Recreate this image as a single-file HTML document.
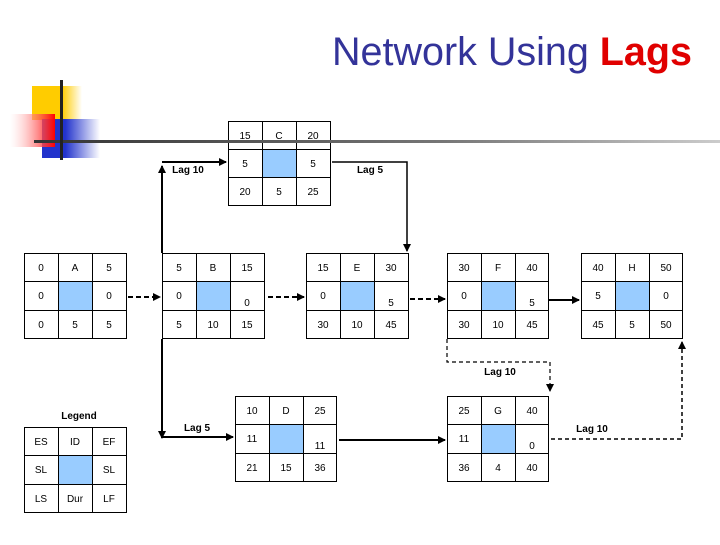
<!DOCTYPE html>
<html><head><style>
body{margin:0;background:#fff;}
svg text{font-family:"Liberation Sans",sans-serif;}
</style></head><body>
<svg width="720" height="540" viewBox="0 0 720 540" xmlns="http://www.w3.org/2000/svg">
<defs>
<linearGradient id="hl" x1="0" x2="1"><stop offset="0" stop-color="#333"/><stop offset="0.6" stop-color="#777"/><stop offset="1" stop-color="#ccc"/></linearGradient>
<linearGradient id="rd" x1="1" x2="0"><stop offset="0" stop-color="#f00"/><stop offset="1" stop-color="#fff" stop-opacity="0.3"/></linearGradient>
<linearGradient id="bl" x1="0" x2="1"><stop offset="0.4" stop-color="#2233cc"/><stop offset="1" stop-color="#fff"/></linearGradient>
<linearGradient id="yl" x1="0" x2="1"><stop offset="0.6" stop-color="#ffcc00"/><stop offset="1" stop-color="#fff"/></linearGradient>
<marker id="ah" markerWidth="8" markerHeight="8" refX="7" refY="4" orient="auto" markerUnits="userSpaceOnUse"><path d="M0,0 L8,4 L0,8 z" fill="#000"/></marker>
</defs>
<rect x="32" y="86" width="50" height="34" fill="url(#yl)"/>
<rect x="42" y="119" width="58" height="39" fill="url(#bl)"/>
<rect x="10" y="114" width="45" height="33" fill="url(#rd)"/>
<text x="692" y="65" text-anchor="end" font-size="39.5" fill="#333399">Network Using <tspan fill="#e00000" font-weight="bold">Lags</tspan></text>

<g font-size="10" text-anchor="middle">
<!-- C -->
<rect x="228.5" y="121.5" width="102" height="84" fill="#fff" stroke="#000"/>
<rect x="262" y="149" width="34" height="28" fill="#99ccff"/>
<path d="M262.5 121v84M296.5 121v84M228 149.5h102M228 177.5h102" stroke="#000"/>
<text x="245" y="139">15</text><text x="279" y="139">C</text><text x="313" y="139">20</text>
<text x="245" y="167">5</text><text x="313" y="167">5</text>
<text x="245" y="195">20</text><text x="279" y="195">5</text><text x="313" y="195">25</text>

<!-- A -->
<rect x="58" y="281" width="34" height="29" fill="#99ccff"/>
<rect x="24.5" y="253.5" width="102" height="85" fill="none" stroke="#000"/>
<path d="M58.5 253v85M92.5 253v85M24 281.5h102M24 310.5h102" stroke="#000"/>
<text x="41" y="271">0</text><text x="75" y="271">A</text><text x="109" y="271">5</text>
<text x="41" y="299">0</text><text x="109" y="299">0</text>
<text x="41" y="328">0</text><text x="75" y="328">5</text><text x="109" y="328">5</text>

<!-- B -->
<rect x="196" y="281" width="34" height="29" fill="#99ccff"/>
<rect x="162.5" y="253.5" width="102" height="85" fill="none" stroke="#000"/>
<path d="M196.5 253v85M230.5 253v85M162 281.5h102M162 310.5h102" stroke="#000"/>
<text x="179" y="271">5</text><text x="213" y="271">B</text><text x="247" y="271">15</text>
<text x="179" y="299">0</text><text x="247" y="306">0</text>
<text x="179" y="328">5</text><text x="213" y="328">10</text><text x="247" y="328">15</text>

<!-- E -->
<rect x="340" y="281" width="34" height="29" fill="#99ccff"/>
<rect x="306.5" y="253.5" width="102" height="85" fill="none" stroke="#000"/>
<path d="M340.5 253v85M374.5 253v85M306 281.5h102M306 310.5h102" stroke="#000"/>
<text x="323" y="271">15</text><text x="357" y="271">E</text><text x="391" y="271">30</text>
<text x="323" y="299">0</text><text x="391" y="306">5</text>
<text x="323" y="328">30</text><text x="357" y="328">10</text><text x="391" y="328">45</text>

<!-- F -->
<rect x="481" y="281" width="34" height="29" fill="#99ccff"/>
<rect x="447.5" y="253.5" width="101" height="85" fill="none" stroke="#000"/>
<path d="M481.5 253v85M515.5 253v85M447 281.5h101M447 310.5h101" stroke="#000"/>
<text x="464" y="271">30</text><text x="498" y="271">F</text><text x="532" y="271">40</text>
<text x="464" y="299">0</text><text x="532" y="306">5</text>
<text x="464" y="328">30</text><text x="498" y="328">10</text><text x="532" y="328">45</text>

<!-- H -->
<rect x="615" y="281" width="34" height="29" fill="#99ccff"/>
<rect x="581.5" y="253.5" width="101" height="85" fill="none" stroke="#000"/>
<path d="M615.5 253v85M649.5 253v85M581 281.5h101M581 310.5h101" stroke="#000"/>
<text x="598" y="271">40</text><text x="632" y="271">H</text><text x="666" y="271">50</text>
<text x="598" y="299">5</text><text x="666" y="299">0</text>
<text x="598" y="328">45</text><text x="632" y="328">5</text><text x="666" y="328">50</text>

<!-- D -->
<rect x="269" y="425" width="34" height="28" fill="#99ccff"/>
<rect x="235.5" y="396.5" width="101" height="85" fill="none" stroke="#000"/>
<path d="M269.5 396v85M303.5 396v85M235 424.5h101M235 453.5h101" stroke="#000"/>
<text x="252" y="414">10</text><text x="286" y="414">D</text><text x="320" y="414">25</text>
<text x="252" y="442">11</text><text x="320" y="449">11</text>
<text x="252" y="471">21</text><text x="286" y="471">15</text><text x="320" y="471">36</text>

<!-- G -->
<rect x="481" y="425" width="34" height="28" fill="#99ccff"/>
<rect x="447.5" y="396.5" width="101" height="85" fill="none" stroke="#000"/>
<path d="M481.5 396v85M515.5 396v85M447 424.5h101M447 453.5h101" stroke="#000"/>
<text x="464" y="414">25</text><text x="498" y="414">G</text><text x="532" y="414">40</text>
<text x="464" y="442">11</text><text x="532" y="449">0</text>
<text x="464" y="471">36</text><text x="498" y="471">4</text><text x="532" y="471">40</text>

<!-- Legend -->
<text x="79" y="419" font-weight="bold">Legend</text>
<rect x="58" y="455" width="34" height="29" fill="#99ccff"/>
<rect x="24.5" y="427.5" width="102" height="85" fill="none" stroke="#000"/>
<path d="M58.5 427v85M92.5 427v85M24 455.5h102M24 484.5h102" stroke="#000"/>
<text x="41" y="445">ES</text><text x="75" y="445">ID</text><text x="109" y="445">EF</text>
<text x="41" y="473">SL</text><text x="109" y="473">SL</text>
<text x="41" y="502">LS</text><text x="75" y="502">Dur</text><text x="109" y="502">LF</text>

<g font-weight="bold" font-size="10">
<text x="188" y="173">Lag 10</text>
<text x="370" y="173">Lag 5</text>
<text x="500" y="375">Lag 10</text>
<text x="197" y="431">Lag 5</text>
<text x="592" y="432">Lag 10</text>
</g>
</g>

<rect x="34" y="140" width="686" height="3" fill="url(#hl)"/>
<rect x="60" y="80" width="3" height="80" fill="#222"/>

<g stroke="#000" fill="none">
<path d="M162 253 V166" stroke-width="2" marker-end="url(#ah)"/>
<path d="M162 162 H226" stroke-width="2" marker-end="url(#ah)"/>
<path d="M332 162 H407 V251" stroke-width="1.5" marker-end="url(#ah)"/>
<path d="M128 297 H160" stroke-width="2" stroke-dasharray="5,3" marker-end="url(#ah)"/>
<path d="M268 297 H304" stroke-width="2" stroke-dasharray="5,3" marker-end="url(#ah)"/>
<path d="M410 299 H445" stroke-width="2" stroke-dasharray="5,3" marker-end="url(#ah)"/>
<path d="M549 300 H579" stroke-width="2" marker-end="url(#ah)"/>
<path d="M447 339 V362 H550 V391" stroke-width="1.2" stroke-dasharray="4,3" marker-end="url(#ah)"/>
<path d="M162 339 V438" stroke-width="2" marker-end="url(#ah)"/>
<path d="M162 437 H233" stroke-width="2" marker-end="url(#ah)"/>
<path d="M339 440 H445" stroke-width="2" marker-end="url(#ah)"/>
<path d="M551 439 H682 V342" stroke-width="1.5" stroke-dasharray="4,3" marker-end="url(#ah)"/>
</g>
</svg>
</body></html>
